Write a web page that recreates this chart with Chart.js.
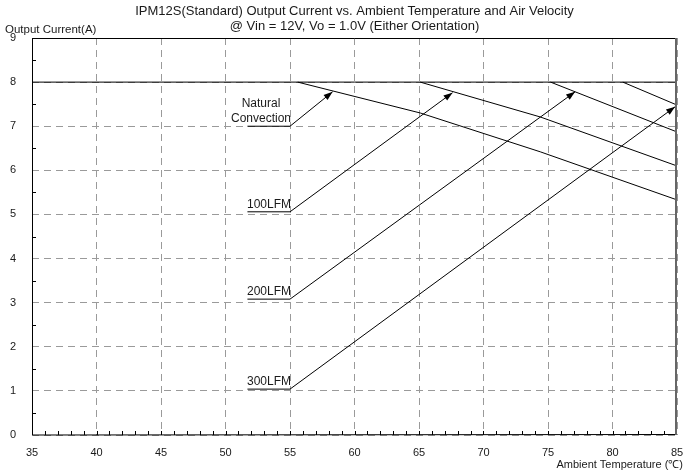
<!DOCTYPE html>
<html>
<head>
<meta charset="utf-8">
<script src="https://cdn.jsdelivr.net/npm/chart.js@4.4.1/dist/chart.umd.min.js"></script>
<style>
  html, body { margin: 0; padding: 0; background: #fff; }
  #wrap { width: 686px; height: 473px; }
</style>
</head>
<body>
<div id="wrap"><canvas id="derating"></canvas></div>
<script>
// Derating curves (ambient temp in C, output current in A)
const ratedTemp = [35, 85];
const ratedCurrent = [8, 8];
const ncTemp = [55.6, 65.1, 74.4, 85];
const ncCurrent = [8, 7.30, 6.42, 5.33];
const lfm100Temp = [65.1, 74.4, 85];
const lfm100Current = [8, 7.21, 6.10];
const lfm200Temp = [75.2, 85];
const lfm200Current = [8, 6.87];
const lfm300Temp = [80.8, 85];
const lfm300Current = [8, 7.48];

// Callout labels: text, underline start/end and where the arrow points
const calloutText = [['Natural', 'Convection'], ['100LFM'], ['200LFM'], ['300LFM']];
const calloutFromTemp = [51.7, 51.7, 51.7, 51.7];
const calloutBaseTemp = [55, 55, 55, 55];
const calloutBaseCurrent = [7.0, 5.06, 3.08, 1.04];
const arrowTipTemp = [58.3, 67.6, 77.1, 84.85];
const arrowTipCurrent = [7.78, 7.76, 7.78, 7.44];

const xTicks = [35, 40, 45, 50, 55, 60, 65, 70, 75, 80, 85];
const yTicks = [0, 1, 2, 3, 4, 5, 6, 7, 8, 9];

const titleLines = ['IPM12S(Standard) Output Current vs. Ambient Temperature and Air Velocity',
                    '@ Vin = 12V, Vo = 1.0V (Either Orientation)'];
const yTitle = 'Output Current(A)';
const xTitle = 'Ambient Temperature (\u2103)';

const FONT = '"Liberation Sans", Arial, sans-serif';
const INK = '#1a1a1a';

const toPoints = (xs, ys) => xs.map((x, i) => ({x: x, y: ys[i]}));

const curveSets = [
  toPoints(ratedTemp, ratedCurrent),
  toPoints(ncTemp, ncCurrent),
  toPoints(lfm100Temp, lfm100Current),
  toPoints(lfm200Temp, lfm200Current),
  toPoints(lfm300Temp, lfm300Current)
];

const datasets = [];
curveSets.forEach(pts => {
  datasets.push({data: pts, borderColor: '#000', borderWidth: 1, pointRadius: 0, tension: 0});
});
// underline + arrow shaft for each callout
calloutText.forEach((t, i) => {
  datasets.push({
    data: [
      {x: calloutFromTemp[i], y: calloutBaseCurrent[i]},
      {x: calloutBaseTemp[i], y: calloutBaseCurrent[i]},
      {x: arrowTipTemp[i], y: arrowTipCurrent[i]}
    ],
    borderColor: '#000', borderWidth: 1, pointRadius: 0, tension: 0,
    isArrow: true
  });
});

// Minor ticks, frame, arrowheads and text
const extras = {
  id: 'extras',
  afterDatasetsDraw(chart) {
    const {ctx, chartArea: a, scales: {x, y}} = chart;
    ctx.save();
    // minor ticks
    ctx.strokeStyle = '#000';
    ctx.lineWidth = 1;
    ctx.beginPath();
    for (let t = 36; t < 85; t++) {
      const px = Math.round(x.getPixelForValue(t)) + 0.5;
      ctx.moveTo(px, a.bottom);
      ctx.lineTo(px, a.bottom - 4);
    }
    for (let v = 0.5; v < 9; v += 1) {
      const py = Math.round(y.getPixelForValue(v)) + 0.5;
      ctx.moveTo(a.left, py);
      ctx.lineTo(a.left + 4, py);
    }
    ctx.stroke();

    // frame
    ctx.beginPath();
    ctx.moveTo(a.left + 0.5, a.top + 0.5);
    ctx.lineTo(a.right - 0.5, a.top + 0.5);
    ctx.moveTo(a.left + 0.5, a.top);
    ctx.lineTo(a.left + 0.5, a.bottom);
    ctx.lineTo(a.right, a.bottom - 0.5);
    ctx.stroke();
    ctx.strokeStyle = '#666';
    ctx.lineWidth = 2;
    ctx.beginPath();
    ctx.moveTo(a.right - 1, a.top);
    ctx.lineTo(a.right - 1, a.bottom);
    ctx.stroke();

    // arrowheads
    ctx.fillStyle = '#000';
    chart.data.datasets.forEach((ds, i) => {
      if (!ds.isArrow) return;
      const pts = chart.getDatasetMeta(i).data;
      const p0 = pts[1], p1 = pts[2];
      const ang = Math.atan2(p1.y - p0.y, p1.x - p0.x);
      const len = 9, half = 3.2;
      ctx.beginPath();
      ctx.moveTo(p1.x, p1.y);
      ctx.lineTo(p1.x - len * Math.cos(ang) + half * Math.sin(ang), p1.y - len * Math.sin(ang) - half * Math.cos(ang));
      ctx.lineTo(p1.x - len * Math.cos(ang) - half * Math.sin(ang), p1.y - len * Math.sin(ang) + half * Math.cos(ang));
      ctx.closePath();
      ctx.fill();
    });

    // callout labels, right-aligned to the end of the underline
    ctx.fillStyle = INK;
    ctx.font = '12px ' + FONT;
    ctx.textAlign = 'center';
    ctx.textBaseline = 'alphabetic';
    calloutText.forEach((lines, i) => {
      const right = x.getPixelForValue(calloutBaseTemp[i]) + 1;
      const w = Math.max(...lines.map(l => ctx.measureText(l).width));
      const cx = right - w / 2;
      const by = y.getPixelForValue(calloutBaseCurrent[i]) - 4;
      lines.slice().reverse().forEach((ln, k) => {
        ctx.fillText(ln, cx, by - k * 15);
      });
    });

    // titles
    ctx.font = '13px ' + FONT;
    ctx.textBaseline = 'middle';
    ctx.fillText(titleLines[0], (a.left + a.right) / 2, 11);
    ctx.fillText(titleLines[1], (a.left + a.right) / 2, 26);
    ctx.font = '11.5px ' + FONT;
    ctx.textAlign = 'left';
    ctx.fillText(yTitle, 5, 30);
    ctx.textAlign = 'right';
    ctx.font = '11px ' + FONT;
    ctx.fillText(xTitle, 683, 465);
    ctx.restore();
  }
};

new Chart(document.getElementById('derating'), {
  type: 'line',
  data: {datasets: datasets},
  options: {
    responsive: true,
    maintainAspectRatio: false,
    animation: false,
    layout: {padding: {top: 38, right: 9, left: 0, bottom: 0}},
    plugins: {legend: {display: false}, tooltip: {enabled: false}},
    scales: {
      x: {
        type: 'linear', min: 35, max: 85,
        afterFit: s => { s.height = 38; s.paddingLeft = 0; s.paddingRight = 0; },
        afterBuildTicks: s => { s.ticks = xTicks.map(v => ({value: v})); },
        grid: {color: '#9a9a9a', drawTicks: false, lineWidth: 1},
        border: {display: false, dash: [7, 5]},
        ticks: {color: INK, font: {family: FONT, size: 11}, padding: 11, maxRotation: 0}
      },
      y: {
        type: 'linear', min: 0, max: 9,
        afterFit: s => { s.width = 32; s.paddingTop = 0; s.paddingBottom = 0; },
        afterBuildTicks: s => { s.ticks = yTicks.map(v => ({value: v})); },
        grid: {color: '#9a9a9a', drawTicks: false, lineWidth: 1},
        border: {display: false, dash: [7, 5]},
        ticks: {color: INK, font: {family: FONT, size: 11}, padding: 16}
      }
    }
  },
  plugins: [extras]
});
</script>
</body>
</html>
